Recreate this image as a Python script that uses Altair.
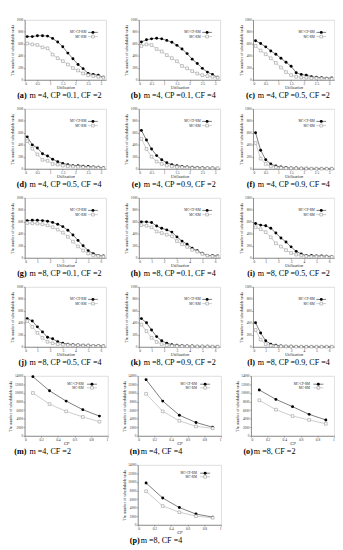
import altair as alt
import pandas as pd

util_m4 = [0.1, 0.3, 0.5, 0.7, 0.9, 1.1, 1.3, 1.5, 1.7, 1.9, 2.1, 2.3, 2.5, 2.7, 2.9, 3.1]
util_m8 = [0.2, 0.6, 1.0, 1.4, 1.8, 2.2, 2.6, 3.0, 3.4, 3.8, 4.2, 4.6, 5.0, 5.4, 5.8, 6.2]
cp_values = [0.1, 0.3, 0.5, 0.7, 0.9]

ticks_m4 = [0, 0.5, 1, 1.5, 2, 2.5, 3]
ticks_m8 = [0, 1, 2, 3, 4, 5, 6]
ticks_cp = [0, 0.2, 0.4, 0.6, 0.8, 1]
yticks_top = [0, 200, 400, 600, 800, 1000]
yticks_bot = [0, 2000, 4000, 6000, 8000, 10000, 12000, 14000]

series = ["MC-CP-RM", "MC-RM"]

a_cp = [720, 720, 735, 735, 728, 690, 630, 550, 445, 350, 255, 185, 105, 90, 77, 41]
a_rm = [605, 590, 580, 540, 525, 420, 360, 310, 255, 195, 155, 105, 77, 62, 50, 36]
b_cp = [630, 667, 682, 692, 682, 656, 626, 574, 513, 436, 344, 272, 190, 128, 87, 41]
b_rm = [564, 590, 580, 513, 472, 410, 360, 308, 230, 190, 144, 103, 77, 62, 51, 36]
c_cp = [651, 605, 549, 480, 426, 359, 292, 225, 118, 87, 77, 51, 41, 36, 26, 31]
c_rm = [564, 487, 426, 359, 282, 205, 128, 77, 51, 41, 36, 26, 26, 21, 15, 15]
d_cp = [532, 399, 346, 250, 213, 160, 117, 90, 69, 53, 53, 43, 37, 32, 27, 16]
d_rm = [460, 335, 239, 149, 133, 80, 69, 53, 43, 37, 32, 27, 21, 21, 16, 11]
e_cp = [640, 480, 330, 220, 150, 100, 70, 50, 40, 30, 25, 20, 18, 15, 12, 10]
e_rm = [500, 330, 200, 120, 80, 55, 40, 30, 25, 20, 15, 12, 10, 10, 8, 8]
f_cp = [600, 310, 150, 80, 45, 30, 20, 15, 12, 10, 8, 6, 5, 5, 4, 4]
f_rm = [430, 170, 80, 40, 25, 15, 10, 8, 6, 5, 4, 3, 3, 2, 2, 2]
g_cp = [620, 625, 625, 620, 610, 590, 560, 520, 460, 380, 290, 200, 120, 70, 40, 30]
g_rm = [580, 575, 570, 560, 540, 510, 470, 420, 350, 270, 190, 120, 70, 40, 30, 20]
h_cp = [599, 599, 588, 529, 492, 465, 428, 348, 278, 225, 160, 118, 75, 37, 37, 32]
h_rm = [545, 535, 508, 438, 412, 385, 358, 278, 225, 182, 134, 102, 64, 37, 27, 21]
i_cp = [572, 545, 535, 492, 412, 331, 262, 182, 107, 64, 37, 37, 32, 32, 27, 21]
i_rm = [508, 476, 428, 342, 241, 187, 128, 80, 53, 37, 27, 21, 21, 16, 16, 16]
j_cp = [470, 431, 332, 248, 158, 134, 84, 59, 45, 35, 30, 25, 25, 20, 20, 15]
j_rm = [431, 332, 233, 149, 84, 59, 45, 35, 30, 25, 25, 20, 20, 15, 15, 10]
k_cp = [470, 400, 280, 170, 100, 60, 35, 25, 20, 15, 12, 10, 8, 8, 6, 6]
k_rm = [370, 260, 150, 80, 45, 25, 15, 12, 10, 8, 6, 5, 5, 4, 4, 3]
l_cp = [400, 230, 100, 45, 25, 15, 10, 8, 6, 5, 4, 4, 3, 3, 3, 3]
l_rm = [280, 120, 45, 20, 10, 6, 5, 4, 3, 3, 2, 2, 2, 2, 2, 2]
m_cp = [13800, 10500, 8100, 6100, 4600]
m_rm = [10000, 7400, 5700, 4400, 3300]
n_cp = [13100, 8100, 4800, 3100, 2000]
n_rm = [9800, 5700, 3500, 2200, 1750]
o_cp = [10700, 8500, 6800, 5000, 3700]
o_rm = [8300, 6100, 4600, 3700, 2800]
p_cp = [9760, 6250, 4020, 2510, 1800]
p_rm = [7825, 4380, 2940, 2010, 1650]

SERIF = "Liberation Serif"


def panel(label, rest, gap, xs, cp, rm, xmax, xticks, xtitle, ymax, yticks, w, h, leg):
    df = pd.DataFrame({
        "x": list(xs) * 2,
        "y": list(cp) + list(rm),
        "s": [series[0]] * len(xs) + [series[1]] * len(xs),
    })
    xenc = alt.X("x:Q", scale=alt.Scale(domain=[0, xmax], nice=False, zero=True),
                 axis=alt.Axis(values=xticks, title=xtitle, format="~g", labelFontSize=3.6,
                               titleFontSize=4.4, titleFontStyle="italic", titleFontWeight="normal",
                               titleFont=SERIF, labelFont=SERIF, titlePadding=0.3, labelPadding=0.5,
                               tickSize=1.5, grid=False, domainColor="#555", tickColor="#555",
                               labelColor="#333", titleColor="#222", domainWidth=0.6, tickWidth=0.5))
    yenc = alt.Y("y:Q", scale=alt.Scale(domain=[0, ymax], nice=False, zero=True),
                 axis=alt.Axis(values=yticks, title="The number of schedulable tasks", format="d",
                               labelFontSize=3.4, titleFontSize=4.0, titleFontWeight="normal",
                               titleFont=SERIF, labelFont=SERIF, titlePadding=1.5, labelPadding=0.5,
                               tickSize=1.5, grid=False, domainColor="#555", tickColor="#555",
                               labelColor="#333", titleColor="#222", domainWidth=0.6, tickWidth=0.5))
    base = alt.Chart(df).encode(x=xenc, y=yenc)
    lines = base.mark_line(strokeWidth=0.6).encode(
        color=alt.Color("s:N", scale=alt.Scale(domain=series, range=["#222222", "#aaaaaa"]), legend=None),
        detail="s:N")
    black = base.transform_filter(alt.datum.s == series[0]).mark_point(
        shape="circle", size=9, filled=True, color="black", opacity=1)
    white = base.transform_filter(alt.datum.s == series[1]).mark_point(
        shape="square", size=8, filled=False, fill="white", stroke="#999999", strokeWidth=0.6, opacity=1)

    tx, lx1, lx2, sx, y1, y2 = leg
    legtxt1 = alt.Chart().mark_text(align="right", baseline="middle", fontSize=3.4, font=SERIF, color="#222").encode(
        x=alt.value(tx * w), y=alt.value(y1 * h), text=alt.value(series[0]))
    legtxt2 = alt.Chart().mark_text(align="right", baseline="middle", fontSize=3.4, font=SERIF, color="#222").encode(
        x=alt.value(tx * w), y=alt.value(y2 * h), text=alt.value(series[1]))
    legr1 = alt.Chart().mark_rule(color="#222", strokeWidth=0.6).encode(
        x=alt.value(lx1 * w), x2=alt.value(lx2 * w), y=alt.value(y1 * h))
    legr2 = alt.Chart().mark_rule(color="#aaa", strokeWidth=0.6).encode(
        x=alt.value(lx1 * w), x2=alt.value(lx2 * w), y=alt.value(y2 * h))
    legp1 = alt.Chart().mark_point(shape="circle", size=9, filled=True, color="black", opacity=1).encode(
        x=alt.value(sx * w), y=alt.value(y1 * h))
    legp2 = alt.Chart().mark_point(shape="square", size=8, filled=False, fill="white", stroke="#999",
                                   strokeWidth=0.6, opacity=1).encode(x=alt.value(sx * w), y=alt.value(y2 * h))

    cap1 = alt.Chart().mark_text(align="right", baseline="middle", fontSize=8.4, font=SERIF,
                                 fontWeight="bold", color="black").encode(
        x=alt.value(2), y=alt.value(h + 15.5), text=alt.value(label))
    cap2 = alt.Chart().mark_text(align="left", baseline="middle", fontSize=8.4, font=SERIF,
                                 color="black").encode(
        x=alt.value(2 + gap), y=alt.value(h + 15.5), text=alt.value(rest))

    return alt.layer(lines, black, white, legr1, legr2, legp1, legp2, legtxt1, legtxt2, cap1, cap2).properties(
        width=w, height=h)


W, H = 84, 62
WB, HB = 86, 62
LEG_TOP = (0.76, 0.78, 0.90, 0.84, 0.21, 0.28)
LEG_BOT = (0.71, 0.75, 0.87, 0.81, 0.14, 0.20)

top_specs = [
    ("(a)", "m =4, CP =0.1, CF =2", util_m4, a_cp, a_rm, 3.2, ticks_m4),
    ("(b)", "m =4, CP =0.1, CF =4", util_m4, b_cp, b_rm, 3.2, ticks_m4),
    ("(c)", "m =4, CP =0.5, CF =2", util_m4, c_cp, c_rm, 3.2, ticks_m4),
    ("(d)", "m =4, CP =0.5, CF =4", util_m4, d_cp, d_rm, 3.2, ticks_m4),
    ("(e)", "m =4, CP =0.9, CF =2", util_m4, e_cp, e_rm, 3.2, ticks_m4),
    ("(f)", "m =4, CP =0.9, CF =4", util_m4, f_cp, f_rm, 3.2, ticks_m4),
    ("(g)", "m =8, CP =0.1, CF =2", util_m8, g_cp, g_rm, 6.4, ticks_m8),
    ("(h)", "m =8, CP =0.1, CF =4", util_m8, h_cp, h_rm, 6.4, ticks_m8),
    ("(i)", "m =8, CP =0.5, CF =2", util_m8, i_cp, i_rm, 6.4, ticks_m8),
    ("(j)", "m =8, CP =0.5, CF =4", util_m8, j_cp, j_rm, 6.4, ticks_m8),
    ("(k)", "m =8, CP =0.9, CF =2", util_m8, k_cp, k_rm, 6.4, ticks_m8),
    ("(l)", "m =8, CP =0.9, CF =4", util_m8, l_cp, l_rm, 6.4, ticks_m8),
]
bot_specs = [
    ("(m)", "m =4, CF =2", 3, m_cp, m_rm),
    ("(n)", "m =4, CF =4", 1, n_cp, n_rm),
    ("(o)", "m =8, CF =2", 1, o_cp, o_rm),
    ("(p)", "m =8, CF =4", 1, p_cp, p_rm),
]

top_panels = [panel(lb, rs, 3, xs, cp, rm, xm, xt, "Utilization", 1000, yticks_top, W, H, LEG_TOP)
              for lb, rs, xs, cp, rm, xm, xt in top_specs]
bot_panels = [panel(lb, rs, gp, cp_values, cp, rm, 1, ticks_cp, "CP", 14000, yticks_bot, WB, HB, LEG_BOT)
              for lb, rs, gp, cp, rm in bot_specs]

rows = []
for r in range(4):
    rows.append(alt.hconcat(*top_panels[3 * r:3 * r + 3], spacing=18))
rows.append(alt.hconcat(*bot_panels[0:3], spacing=13))
rows.append(alt.hconcat(bot_panels[3], spacing=13))

chart = alt.vconcat(*rows, spacing=6, center=True).configure_view(
    stroke="#999999", strokeWidth=0.6).configure(padding=0, background="white")

chart.save("out.html", embed_options={"renderer": "svg", "actions": False})
